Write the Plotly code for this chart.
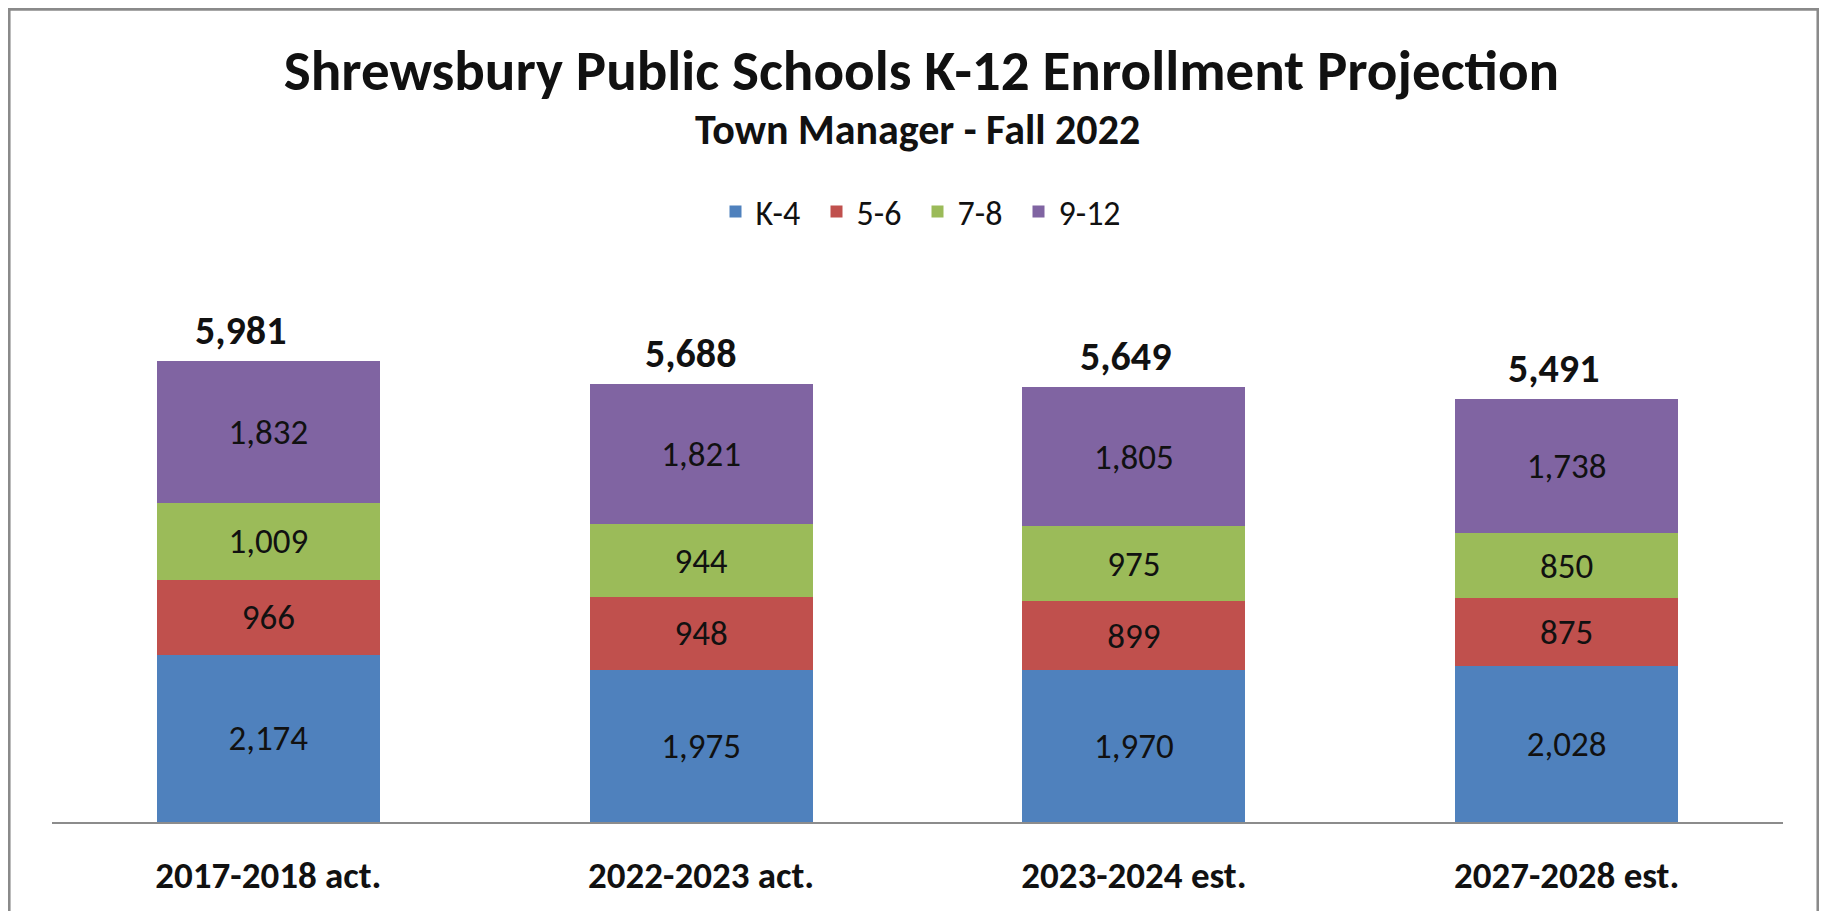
import plotly.graph_objects as go

# ---- data ----
categories = ["2017-2018 act.", "2022-2023 act.", "2023-2024 est.", "2027-2028 est."]
k4 = [2174, 1975, 1970, 2028]
g56 = [966, 948, 899, 875]
g78 = [1009, 944, 975, 850]
g912 = [1832, 1821, 1805, 1738]
series_names = ["K-4", "5-6", "7-8", "9-12"]

totals = [a + b + c + d for a, b, c, d in zip(k4, g56, g78, g912)]

# ---- style ----
colors = ["#4F81BD", "#C0504D", "#9BBB59", "#8064A2"]
FONT = "Calibri, Carlito, Lato, sans-serif"
total_xshift = [-28, -11, -8, -13]

fig = go.Figure()
for name, vals, col in zip(series_names, [k4, g56, g78, g912], colors):
    fig.add_trace(go.Bar(
        name=name, x=categories, y=vals,
        marker=dict(color=col, line=dict(width=0)),
        texttemplate="%{y:,}", textposition="inside",
        insidetextanchor="middle", textangle=0, constraintext="none",
        textfont=dict(family=FONT, size=35, color="#111111"),
        hoverinfo="x+y+name",
    ))

for cat, tot, xs in zip(categories, totals, total_xshift):
    fig.add_annotation(
        x=cat, y=tot, xref="x", yref="y", text=f"<b>{tot:,}</b>",
        showarrow=False, yanchor="middle", yshift=31, xshift=xs,
        font=dict(family=FONT, size=40, color="#111111"),
    )

fig.add_annotation(
    x=0.5, y=1.284, xref="paper", yref="paper",
    text="<b>Town Manager - Fall 2022</b>", showarrow=False,
    yanchor="middle", font=dict(family=FONT, size=42, color="#111111"),
)

# outer frame
fig.add_shape(type="rect", xref="paper", yref="paper",
              x0=-0.0248, x1=1.0202, y0=-0.25, y1=1.508,
              line=dict(color="#8a8a8a", width=3), fillcolor="rgba(0,0,0,0)", layer="below")

fig.update_layout(
    width=1827, height=911,
    barmode="stack", bargap=0.485,
    paper_bgcolor="white", plot_bgcolor="white",
    margin=dict(l=44, r=52, t=275, b=97),
    title=dict(text="<b>Shrewsbury Public Schools K-12 Enrollment Projection</b>",
               x=0.5, xanchor="center", y=1 - 62 / 911, yanchor="middle",
               font=dict(family=FONT, size=57, color="#111111")),
    legend=dict(orientation="h", x=0.5, xanchor="center", y=1.132, yanchor="middle",
                font=dict(family=FONT, size=34, color="#111111"),
                traceorder="normal", itemsizing="constant",
                entrywidth=56, entrywidthmode="pixels"),
    showlegend=True,
    xaxis=dict(showline=True, linecolor="#8c8c8c", linewidth=2, ticks="",
               showgrid=False, zeroline=False,
               tickfont=dict(family=FONT, size=37, color="#111111", weight="bold"),
               ticklabelstandoff=20),
    yaxis=dict(range=[0, 7000], visible=False, showgrid=False, zeroline=False),
)

fig.write_html("out.html")
